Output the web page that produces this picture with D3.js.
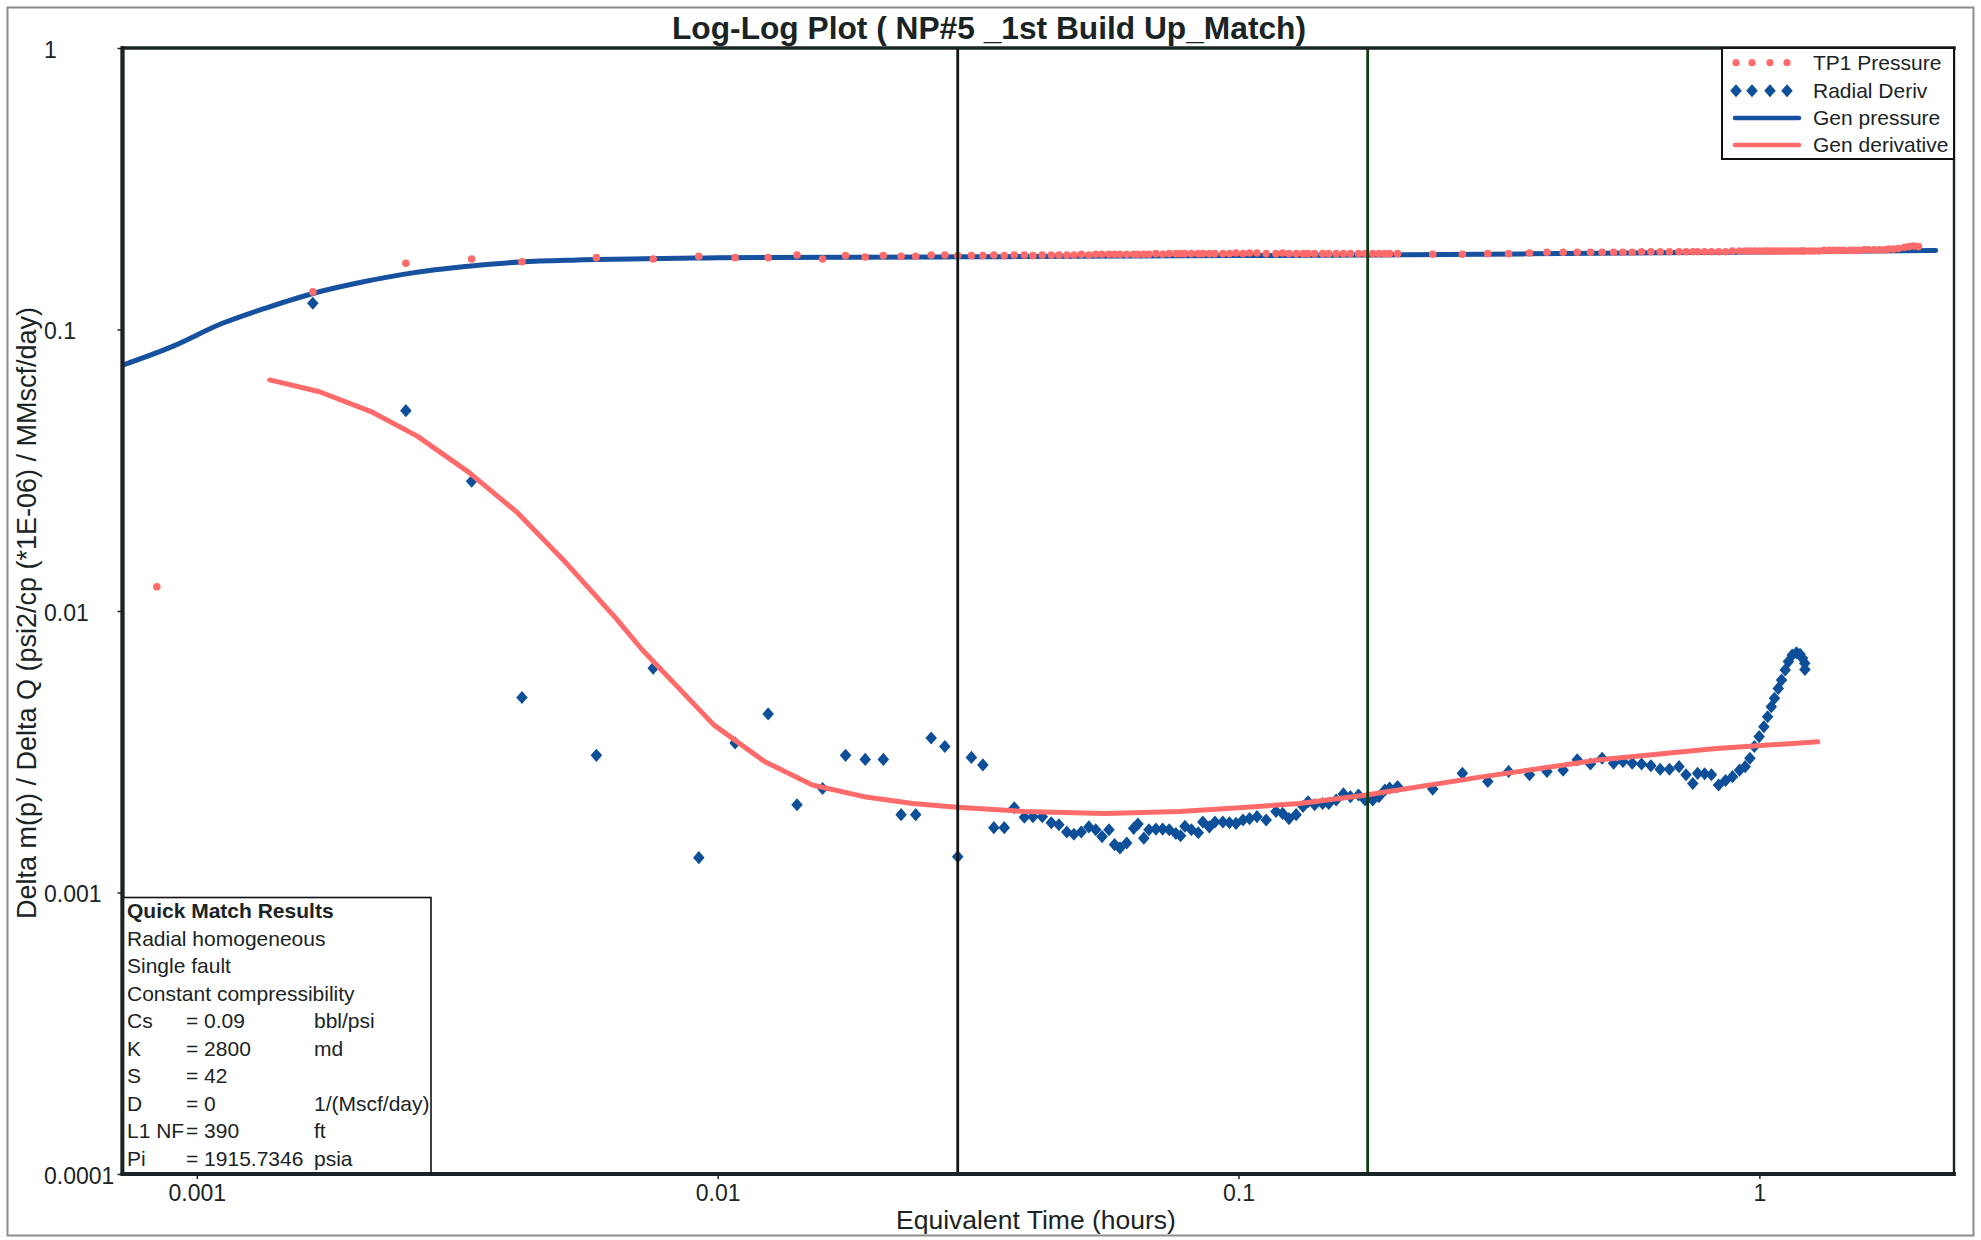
<!DOCTYPE html>
<html>
<head>
<meta charset="utf-8">
<title>Log-Log Plot ( NP#5 _1st Build Up_Match)</title>
<script src="https://cdn.jsdelivr.net/npm/d3@7"></script>
<style>
  html, body { margin: 0; padding: 0; background: #ffffff; }
  svg { display: block; }
  text { font-family: "Liberation Sans", Arial, Helvetica, sans-serif; fill: #1a2424; }
</style>
</head>
<body>
<svg id="chart" width="1981" height="1240"></svg>
<script>
// ---- Data (equivalent time in hours, normalised pressure / derivative) ----

// Radial derivative points
const derivTime = [
  0.00167, 0.00252, 0.00337, 0.00421, 0.00585, 0.00752, 0.00920, 0.0108, 0.0125, 0.0142,
  0.0159, 0.0176, 0.0192, 0.0208, 0.0225, 0.0240, 0.0257, 0.0273, 0.0289, 0.0307,
  0.0323, 0.0339, 0.0355, 0.0371, 0.0388, 0.0403, 0.0420, 0.0437, 0.0452, 0.0468,
  0.0483, 0.0499, 0.0516, 0.0532, 0.0547, 0.0564, 0.0578, 0.0592, 0.0610, 0.0629,
  0.0641, 0.0658, 0.0673, 0.0694, 0.0715, 0.0736, 0.0758, 0.0774, 0.0789, 0.0812,
  0.0837, 0.0854, 0.0879, 0.0901, 0.0933, 0.0961, 0.0989, 0.102, 0.105, 0.1085,
  0.113, 0.118, 0.1215, 0.125, 0.129, 0.133, 0.136, 0.140, 0.145, 0.149,
  0.154, 0.159, 0.164, 0.170, 0.175, 0.181, 0.186, 0.191, 0.195, 0.202,
  0.236, 0.269, 0.301, 0.330, 0.362, 0.391, 0.420, 0.447, 0.474, 0.499,
  0.525, 0.547, 0.570, 0.594, 0.619, 0.645, 0.672, 0.701, 0.723, 0.745,
  0.761, 0.785, 0.809, 0.835, 0.861, 0.888, 0.916, 0.939, 0.959, 0.978,
  0.999, 1.020, 1.037, 1.054, 1.069, 1.087, 1.103, 1.121, 1.137, 1.156,
  1.178, 1.197, 1.210, 1.222, 1.223
];
const derivValue = [
  0.124, 0.0515, 0.0289, 0.00493, 0.00307, 0.00626, 0.00133, 0.00340, 0.00431, 0.00205,
  0.00234, 0.00307, 0.00297, 0.00297, 0.00189, 0.00189, 0.00354, 0.00330, 0.00134, 0.00302,
  0.00284, 0.00170, 0.00170, 0.00200, 0.00185, 0.00186, 0.00186, 0.00177, 0.00174, 0.00164,
  0.00161, 0.00164, 0.00171, 0.00167, 0.00158, 0.00167, 0.00148, 0.00144, 0.00150, 0.00169,
  0.00175, 0.00156, 0.00167, 0.00168, 0.00168, 0.00167, 0.00162, 0.00159, 0.00172, 0.00167,
  0.00163, 0.00178, 0.00171, 0.00178, 0.00178, 0.00177, 0.00176, 0.00181, 0.00183, 0.00186,
  0.00181, 0.00194, 0.00191, 0.00183, 0.00189, 0.00202, 0.00210, 0.00205, 0.00207, 0.00207,
  0.00213, 0.00224, 0.00219, 0.00222, 0.00213, 0.00213, 0.00219, 0.00231, 0.00235, 0.00238,
  0.00233, 0.00265, 0.00248, 0.00269, 0.00262, 0.00269, 0.00272, 0.00296, 0.00286, 0.00300,
  0.00288, 0.00292, 0.00288, 0.00286, 0.00282, 0.00274, 0.00274, 0.00280, 0.00262, 0.00244,
  0.00265, 0.00264, 0.00262, 0.00241, 0.00250, 0.00258, 0.00272, 0.00280, 0.00300, 0.00330,
  0.00358, 0.00388, 0.00421, 0.00457, 0.00490, 0.00531, 0.00569, 0.00617, 0.00661, 0.00698,
  0.00711, 0.00702, 0.00679, 0.00652, 0.00620
];

// TP1 pressure points: one early reading, the derivative time grid, then the late tail
const pressEarlyTime = [0.000838];
const pressTailTime = [
  1.25, 1.27, 1.30, 1.33, 1.36, 1.39, 1.42, 1.45, 1.49, 1.52, 1.55, 1.59,
  1.62, 1.66, 1.70, 1.74, 1.77, 1.81, 1.85, 1.90, 1.94, 1.98, 2.02
];
const pressValue = [
  0.0122,
  0.136, 0.172, 0.178, 0.174, 0.180, 0.178, 0.182, 0.180, 0.180, 0.184,
  0.178, 0.183, 0.181, 0.183, 0.182, 0.182, 0.184, 0.184, 0.183, 0.183,
  0.183, 0.184, 0.183, 0.184, 0.184, 0.183, 0.184, 0.184, 0.184, 0.184,
  0.184, 0.185, 0.184, 0.185, 0.185, 0.185, 0.185, 0.185, 0.185, 0.185,
  0.185, 0.185, 0.185, 0.186, 0.185, 0.186, 0.186, 0.186, 0.186, 0.186,
  0.186, 0.186, 0.186, 0.186, 0.186, 0.186, 0.187, 0.186, 0.187, 0.187,
  0.186, 0.186, 0.187, 0.186, 0.186, 0.186, 0.186, 0.186, 0.186, 0.186,
  0.186, 0.186, 0.186, 0.186, 0.186, 0.186, 0.186, 0.186, 0.186, 0.186,
  0.185, 0.185, 0.186, 0.186, 0.187, 0.188, 0.188, 0.188, 0.188, 0.188,
  0.188, 0.188, 0.188, 0.189, 0.189, 0.189, 0.189, 0.189, 0.189, 0.189,
  0.189, 0.189, 0.189, 0.189, 0.189, 0.190, 0.190, 0.190, 0.190, 0.190,
  0.190, 0.190, 0.190, 0.190, 0.190, 0.190, 0.190, 0.190, 0.190, 0.190,
  0.190, 0.190, 0.190, 0.190,
  0.190, 0.190, 0.190, 0.191, 0.191, 0.191, 0.191, 0.191, 0.191, 0.191, 0.191, 0.192,
  0.192, 0.192, 0.192, 0.192, 0.193, 0.193, 0.194, 0.196, 0.197, 0.198, 0.197
];
const pressTime = pressEarlyTime.concat(derivTime.slice(0, 124), pressTailTime);

// Generated (model) pressure curve
const genPressTime = [0.000722, 0.000896, 0.00112, 0.00137, 0.00169, 0.00209, 0.00256, 0.00324,
  0.00418, 0.00538, 0.00836, 0.0100, 0.0289, 0.100, 0.177, 0.49, 1.00, 2.18];
const genPressValue = [0.0748, 0.0869, 0.1052, 0.1199, 0.1351, 0.1478, 0.1583, 0.1671,
  0.1737, 0.1766, 0.1790, 0.1800, 0.1812, 0.1830, 0.1840, 0.1865, 0.1885, 0.1910];

// Generated (model) derivative curve
const genDerivTime = [0.00138, 0.00172, 0.00216, 0.00265, 0.00332, 0.00411, 0.00512, 0.00638,
  0.00717, 0.00983, 0.0123, 0.0152, 0.0191, 0.0237, 0.0288, 0.0388, 0.0553, 0.0772,
  0.1038, 0.131, 0.176, 0.295, 0.494, 0.826, 1.295];
const genDerivValue = [0.0662, 0.0601, 0.0511, 0.0418, 0.0312, 0.0225, 0.0148, 0.00942,
  0.00727, 0.00394, 0.00292, 0.00241, 0.00219, 0.00207, 0.00201, 0.00194, 0.00191, 0.00194,
  0.00201, 0.00207, 0.00222, 0.00258, 0.00296, 0.00325, 0.00343];

// Analysis window markers
const markerTime = [0.0289, 0.177];
const markerColor = ["#141414", "#143a14"];

// Axes
const xDomain = [0.000720, 2.364];
const yDomain = [0.0001, 1];
const xTicks = [0.001, 0.01, 0.1, 1];
const xTickLabels = ["0.001", "0.01", "0.1", "1"];
const yTicks = [0.0001, 0.001, 0.01, 0.1, 1];
const yTickLabels = ["0.0001", "0.001", "0.01", "0.1", "1"];

// Legend and match results
const legendNames = ["TP1 Pressure", "Radial Deriv", "Gen pressure", "Gen derivative"];
const matchTitle = "Quick Match Results";
const matchModel = ["Radial homogeneous", "Single fault", "Constant compressibility"];
const matchParams = ["Cs", "K", "S", "D", "L1 NF", "Pi"];
const matchValues = ["= 0.09", "= 2800", "= 42", "= 0", "= 390", "= 1915.7346"];
const matchUnits = ["bbl/psi", "md", "", "1/(Mscf/day)", "ft", "psia"];

// ---- Drawing ----
const W = 1981, H = 1240;
const plot = { left: 122.5, right: 1954, top: 48, bottom: 1174 };
const ink = "#1a2424";
const red = "#ff6b6b";
const blueMark = "#0d4f98";
const blueLine = "#15519f";

const svg = d3.select("#chart");
svg.append("rect").attr("width", W).attr("height", H).attr("fill", "#fff");

// outer frame
svg.append("rect")
  .attr("x", 7.5).attr("y", 7.5).attr("width", 1966).attr("height", 1228)
  .attr("fill", "none").attr("stroke", "#8c8c8c").attr("stroke-width", 2);

const x = d3.scaleLog().domain(xDomain).range([plot.left, plot.right]);
const y = d3.scaleLog().domain(yDomain).range([plot.bottom, plot.top]);

// title
svg.append("text")
  .attr("x", 989).attr("y", 39)
  .attr("text-anchor", "middle")
  .attr("font-size", 31).attr("font-weight", "bold")
  .attr("textLength", 634).attr("lengthAdjust", "spacingAndGlyphs")
  .text("Log-Log Plot ( NP#5 _1st Build Up_Match)");

// axes
const xAxis = d3.axisBottom(x).tickValues(xTicks)
  .tickFormat((d, i) => xTickLabels[i]).tickSize(5).tickSizeOuter(0);
const gx = svg.append("g").attr("transform", `translate(0,${plot.bottom})`).call(xAxis);
gx.select(".domain").remove();
gx.selectAll(".tick line").attr("stroke", ink).attr("stroke-width", 1.5);
gx.selectAll(".tick text").attr("y", 11).attr("font-size", 23).attr("fill", ink)
  .attr("font-family", "Liberation Sans, Arial, sans-serif");

const yAxis = d3.axisLeft(y).tickValues(yTicks)
  .tickFormat((d, i) => yTickLabels[i]).tickSize(5).tickSizeOuter(0);
const gy = svg.append("g").attr("transform", `translate(${plot.left},0)`).call(yAxis);
gy.select(".domain").remove();
gy.selectAll(".tick line").attr("stroke", ink).attr("stroke-width", 1.5);
gy.selectAll(".tick text")
  .attr("text-anchor", "start").attr("x", 44 - plot.left).attr("dy", "0.4em")
  .attr("font-size", 23).attr("fill", ink)
  .attr("font-family", "Liberation Sans, Arial, sans-serif");

// axis titles
svg.append("text")
  .attr("x", 1036).attr("y", 1229).attr("text-anchor", "middle")
  .attr("font-size", 26.5)
  .text("Equivalent Time (hours)");
svg.append("text")
  .attr("transform", "translate(36,613) rotate(-90)")
  .attr("text-anchor", "middle").attr("font-size", 27)
  .text("Delta m(p) / Delta Q (psi2/cp (*1E-06) / MMscf/day)");

// data layer
svg.append("clipPath").attr("id", "plotClip")
  .append("rect").attr("x", plot.left).attr("y", plot.top)
  .attr("width", plot.right - plot.left).attr("height", plot.bottom - plot.top);
const data = svg.append("g").attr("clip-path", "url(#plotClip)");

const line = d3.line().x(d => x(d[0])).y(d => y(d[1]));
const smoothLine = d3.line().curve(d3.curveMonotoneX).x(d => x(d[0])).y(d => y(d[1]));

data.append("path")
  .datum(d3.zip(genPressTime, genPressValue))
  .attr("d", smoothLine).attr("fill", "none")
  .attr("stroke", blueLine).attr("stroke-width", 5)
  .attr("stroke-linejoin", "round").attr("stroke-linecap", "round");

data.append("g").selectAll("circle")
  .data(d3.zip(pressTime, pressValue))
  .join("circle")
  .attr("cx", d => x(d[0])).attr("cy", d => y(d[1])).attr("r", 3.8)
  .attr("fill", red);

const diamond = {
  draw(ctx, size) {
    const h = Math.sqrt(size) / 1.6, w = h * 0.88;
    ctx.moveTo(0, -h); ctx.lineTo(w, 0); ctx.lineTo(0, h); ctx.lineTo(-w, 0); ctx.closePath();
  }
};
const diamondPath = d3.symbol().type(diamond).size(110);

data.append("g").selectAll("path")
  .data(d3.zip(derivTime, derivValue))
  .join("path")
  .attr("d", diamondPath)
  .attr("transform", d => `translate(${x(d[0])},${y(d[1])})`)
  .attr("fill", blueMark);

data.append("path")
  .datum(d3.zip(genDerivTime, genDerivValue))
  .attr("d", line).attr("fill", "none")
  .attr("stroke", red).attr("stroke-width", 5)
  .attr("stroke-linejoin", "round").attr("stroke-linecap", "round");

// analysis window markers
svg.append("g").selectAll("line")
  .data(markerTime)
  .join("line")
  .attr("x1", d => x(d)).attr("x2", d => x(d))
  .attr("y1", plot.top).attr("y2", plot.bottom)
  .attr("stroke", (d, i) => markerColor[i]).attr("stroke-width", 2.8);

// plot frame
const frame = svg.append("g").attr("stroke", ink).attr("stroke-linecap", "square");
frame.append("line").attr("x1", plot.left).attr("x2", plot.right)
  .attr("y1", plot.top).attr("y2", plot.top).attr("stroke-width", 3.5);
frame.append("line").attr("x1", plot.left).attr("x2", plot.right)
  .attr("y1", plot.bottom).attr("y2", plot.bottom).attr("stroke-width", 3.8);
frame.append("line").attr("x1", plot.left).attr("x2", plot.left)
  .attr("y1", plot.top).attr("y2", plot.bottom).attr("stroke-width", 3.8);
frame.append("line").attr("x1", plot.right).attr("x2", plot.right)
  .attr("y1", plot.top).attr("y2", plot.bottom).attr("stroke-width", 2.4);

// legend
const legend = svg.append("g");
legend.append("rect")
  .attr("x", 1722).attr("y", plot.top).attr("width", plot.right - 1722).attr("height", 111)
  .attr("fill", "#fff").attr("stroke", "#111").attr("stroke-width", 2);
const rowY = [62.7, 90.7, 118, 145];
const symX = [1736, 1752, 1770, 1787];
legend.selectAll("circle.key")
  .data(symX).join("circle").attr("class", "key")
  .attr("cx", d => d).attr("cy", rowY[0]).attr("r", 3.6).attr("fill", red);
legend.selectAll("path.key")
  .data(symX).join("path").attr("class", "key")
  .attr("d", diamondPath)
  .attr("transform", d => `translate(${d},${rowY[1]})`).attr("fill", blueMark);
legend.append("line").attr("x1", 1735).attr("x2", 1799)
  .attr("y1", rowY[2]).attr("y2", rowY[2])
  .attr("stroke", blueLine).attr("stroke-width", 4.5).attr("stroke-linecap", "round");
legend.append("line").attr("x1", 1735).attr("x2", 1799)
  .attr("y1", rowY[3]).attr("y2", rowY[3])
  .attr("stroke", red).attr("stroke-width", 4.5).attr("stroke-linecap", "round");
legend.selectAll("text")
  .data(legendNames).join("text")
  .attr("x", 1813).attr("y", (d, i) => rowY[i] + 7.4)
  .attr("font-size", 21)
  .text(d => d);

// quick match results box
const box = svg.append("g");
box.append("rect")
  .attr("x", plot.left).attr("y", 897.5).attr("width", 431 - plot.left).attr("height", plot.bottom - 897.5)
  .attr("fill", "#fff").attr("stroke", "#111").attr("stroke-width", 1.6);
const lineY = i => 918 + i * 27.5;
box.append("text").attr("x", 127).attr("y", lineY(0))
  .attr("font-size", 21).attr("font-weight", "bold").text(matchTitle);
matchModel.forEach((s, i) => {
  box.append("text").attr("x", 127).attr("y", lineY(i + 1)).attr("font-size", 21).text(s);
});
matchParams.forEach((p, i) => {
  const yy = lineY(i + 4);
  box.append("text").attr("x", 127).attr("y", yy).attr("font-size", 21).text(p);
  box.append("text").attr("x", 186).attr("y", yy).attr("font-size", 21).text(matchValues[i]);
  if (matchUnits[i]) {
    box.append("text").attr("x", 314).attr("y", yy).attr("font-size", 21).text(matchUnits[i]);
  }
});

// redraw the frame edges the boxes sit on
svg.append("line").attr("x1", plot.left).attr("x2", plot.left)
  .attr("y1", plot.top).attr("y2", plot.bottom)
  .attr("stroke", ink).attr("stroke-width", 3.8);
svg.append("line").attr("x1", plot.left).attr("x2", 431)
  .attr("y1", plot.bottom).attr("y2", plot.bottom)
  .attr("stroke", ink).attr("stroke-width", 3.8);
</script>
</body>
</html>
